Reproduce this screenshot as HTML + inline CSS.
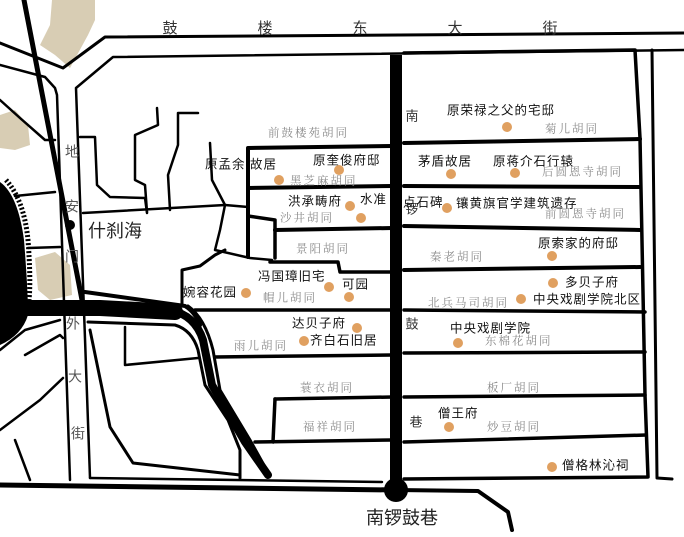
<!DOCTYPE html>
<html><head><meta charset="utf-8"><style>
html,body{margin:0;padding:0;background:#fff;}
svg{display:block;}
.b{font-family:"Liberation Sans","Noto Sans CJK SC",sans-serif;font-size:12.5px;fill:#111;letter-spacing:1px;dominant-baseline:middle;}
.g{font-family:"Liberation Serif","Noto Serif CJK SC",serif;font-size:11.5px;fill:#8a8a8a;letter-spacing:2px;dominant-baseline:middle;}
.r{font-family:"Liberation Sans","Noto Sans CJK SC",sans-serif;font-size:15px;fill:#333;dominant-baseline:middle;text-anchor:middle;}
.big{font-family:"Liberation Sans","Noto Sans CJK SC",sans-serif;font-size:18px;fill:#222;dominant-baseline:middle;}
</style></head><body>
<svg width="684" height="537" viewBox="0 0 684 537" xmlns="http://www.w3.org/2000/svg">
<g fill="#d8cdb4">
<path d="M52 0 L95 0 L95 20 L88 35 L70 68 L55 55 L40 45 L50 25 Z"/>
<path d="M0 115 L15 110 L28 125 L30 145 L15 150 L0 148 Z"/>
<path d="M35 258 L55 252 L70 265 L72 295 L50 300 L38 290 Z"/>
</g>
<!-- lake -->
<path d="M0 182 Q18 195 24 240 Q28 290 28 315 Q22 335 0 345 Z" fill="#000"/>
<path d="M6 180 Q24 200 28 240 Q31 280 29 300" fill="none" stroke="#000" stroke-width="5" stroke-dasharray="2 2"/>
<g fill="none" stroke="#000" stroke-linejoin="round" stroke-linecap="round">
<path d="M0 43 L63 68 L105 37 L684 33" stroke-width="3"/>
<path d="M0 65 L45 77 L55 88 L57 95 L70 480" stroke-width="2.5"/>
<path d="M684 50 L113 57 L76 88 L90 478" stroke-width="2.5"/>
<path d="M0 100 L20 118 L45 140 L55 140" stroke-width="2.5"/>
<path d="M24 0 L82 300" stroke-width="5"/>
<circle cx="70" cy="225" r="5" fill="#000" stroke="none"/>
<!-- thick band -->
<path d="M0 308 L100 308 L175 312" stroke-width="16"/>
<path d="M85 292 L185 306 Q195 312 200 325" stroke-width="4"/>
<path d="M170 310 Q195 315 203 340 L212 385 L245 442 L268 475" stroke-width="8"/>
<path d="M188 306 Q205 318 213 350 L220 390 L250 440 L270 476" stroke-width="3"/>
<path d="M88 322 L175 325 Q192 330 198 350 L205 385 L228 420 L240 450 L240 478" stroke-width="3"/>
<path d="M125 327 L125 365 L198 358" stroke-width="2.5"/>
<path d="M90 330 L110 427 L133 463 L240 475" stroke-width="3"/>
<path d="M0 350 L25 330 L60 320" stroke-width="2.5"/>
<path d="M25 355 L60 335 L63 338" stroke-width="2.5"/>
<path d="M0 430 L40 400 L63 378" stroke-width="2.5"/>
<path d="M15 440 L30 480" stroke-width="2.5"/>
<path d="M15 196 L55 192" stroke-width="2.5"/>
<path d="M28 248 L60 247" stroke-width="2.5"/>
<path d="M0 485 L396 490" stroke-width="5"/>
<path d="M90 478 L382 482" stroke-width="2.5"/>
<path d="M396 490 L478 491 L508 512 L512 530" stroke-width="4"/>
<path d="M396 55 L396 485" stroke-width="12" stroke-linecap="butt"/>
<path d="M404 53 L635 50 L640 138 L645 395 L648 477 L404 479" stroke-width="3.5"/>
<path d="M652 50 L657 478 L672 479" stroke-width="3"/>
<path d="M404 143 L640 139" stroke-width="4"/>
<path d="M404 186 L640 187" stroke-width="4"/>
<path d="M404 226 L640 230" stroke-width="4"/>
<path d="M404 270 L640 267" stroke-width="4"/>
<path d="M404 310 L645 312" stroke-width="3.5"/>
<path d="M404 353 L645 352" stroke-width="3.5"/>
<path d="M404 397 L645 395" stroke-width="3.5"/>
<path d="M404 442 L646 435" stroke-width="3.5"/>
<path d="M248 257 L248 148 L392 146" stroke-width="4"/>
<path d="M248 188 L392 186" stroke-width="4"/>
<path d="M248 216 L275 220 L275 258" stroke-width="3.5"/>
<path d="M275 230 L392 228" stroke-width="4"/>
<path d="M270 262 L338 262 L340 272 L392 272" stroke-width="3.5"/>
<path d="M182 305 L182 270 L200 266 L215 255 L225 250" stroke-width="3"/>
<path d="M195 310 L392 310" stroke-width="3.5"/>
<path d="M215 357 L392 355" stroke-width="3.5"/>
<path d="M275 399 L392 397" stroke-width="3.5"/>
<path d="M275 399 L273 442" stroke-width="3.5"/>
<path d="M255 442 L392 440" stroke-width="3.5"/>
<path d="M80 137 L95 137 L97 185 L110 197 L145 198 L147 213" stroke-width="2.5"/>
<path d="M157 108 L158 125 L135 135 L135 180 L145 185 L147 212" stroke-width="2.5"/>
<path d="M198 113 L178 113 L178 145 L168 175 L170 210" stroke-width="2.5"/>
<path d="M210 143 L212 180 L225 205" stroke-width="2.5"/>
<path d="M83 213 L225 205 L248 207" stroke-width="2.5"/>
<path d="M225 205 L220 230 L215 250 L250 258 L272 260" stroke-width="2.5"/>
</g>
<circle cx="396" cy="490" r="12" fill="#000"/>
<text class="r" x="170" y="29">鼓</text><text class="r" x="265" y="29">楼</text><text class="r" x="360" y="29">东</text><text class="r" x="455" y="29">大</text><text class="r" x="550" y="29">街</text>
<g class="r" style="font-size:14px;fill:#555">
<text x="72" y="153">地</text><text x="72" y="208">安</text><text x="72" y="258">门</text><text x="73" y="325">外</text><text x="75" y="378">大</text><text x="78" y="435">街</text>
</g>
<g class="r" style="font-size:13px;fill:#333">
<text x="412" y="117">南</text><text x="412" y="210">锣</text><text x="412" y="325">鼓</text><text x="416" y="423">巷</text>
</g>
<text class="big" x="88" y="232">什刹海</text>
<text class="big" x="366" y="519">南锣鼓巷</text>
<g fill="#e0a060">
<circle cx="507" cy="127" r="5"/><circle cx="279" cy="180" r="5"/><circle cx="339" cy="170" r="5"/>
<circle cx="451" cy="174" r="5"/><circle cx="515" cy="173" r="5"/><circle cx="350" cy="206" r="5"/>
<circle cx="361" cy="218" r="5"/><circle cx="447" cy="208" r="5"/><circle cx="552" cy="256" r="5"/>
<circle cx="329" cy="287" r="5"/><circle cx="246" cy="293" r="5"/><circle cx="349" cy="297" r="5"/>
<circle cx="553" cy="283" r="5"/><circle cx="521" cy="299" r="5"/><circle cx="357" cy="328" r="5"/>
<circle cx="304" cy="341" r="5"/><circle cx="458" cy="343" r="5"/><circle cx="449" cy="427" r="5"/>
<circle cx="552" cy="467" r="5"/>
</g>
<text class="b" x="447" y="111">原荣禄之父的宅邸</text>
<text class="b" x="205" y="165">原孟余 故居</text>
<text class="b" x="313" y="161">原奎俊府邸</text>
<text class="b" x="418" y="162">茅盾故居</text>
<text class="b" x="493" y="162">原蒋介石行辕</text>
<text class="b" x="288" y="202">洪承畴府</text>
<text class="b" x="360" y="200">水准</text>
<text class="b" x="403" y="203">点石碑</text>
<text class="b" x="456" y="204">镶黄旗官学建筑遗存</text>
<text class="b" x="538" y="244">原索家的府邸</text>
<text class="b" x="258" y="277">冯国璋旧宅</text>
<text class="b" x="183" y="293">婉容花园</text>
<text class="b" x="342" y="285">可园</text>
<text class="b" x="565" y="283">多贝子府</text>
<text class="b" x="533" y="300">中央戏剧学院北区</text>
<text class="b" x="292" y="324">达贝子府</text>
<text class="b" x="310" y="341">齐白石旧居</text>
<text class="b" x="450" y="329">中央戏剧学院</text>
<text class="b" x="438" y="414">僧王府</text>
<text class="b" x="562" y="466">僧格林沁祠</text>
<text class="g" x="545" y="130">菊儿胡同</text>
<text class="g" x="268" y="134">前鼓楼苑胡同</text>
<text class="g" x="290" y="182">黑芝麻胡同</text>
<text class="g" x="542" y="173">后圆恩寺胡同</text>
<text class="g" x="545" y="215">前圆恩寺胡同</text>
<text class="g" x="280" y="219">沙井胡同</text>
<text class="g" x="296" y="250">景阳胡同</text>
<text class="g" x="430" y="258">秦老胡同</text>
<text class="g" x="263" y="299">帽儿胡同</text>
<text class="g" x="428" y="304">北兵马司胡同</text>
<text class="g" x="234" y="347">雨儿胡同</text>
<text class="g" x="485" y="342">东棉花胡同</text>
<text class="g" x="300" y="389">蓑衣胡同</text>
<text class="g" x="487" y="389">板厂胡同</text>
<text class="g" x="303" y="428">福祥胡同</text>
<text class="g" x="487" y="428">炒豆胡同</text>
</svg>
</body></html>
